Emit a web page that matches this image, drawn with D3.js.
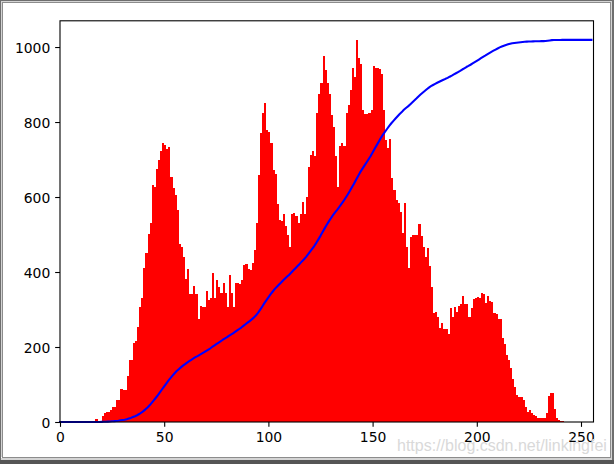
<!DOCTYPE html>
<html>
<head>
<meta charset="utf-8">
<script src="https://cdn.jsdelivr.net/npm/d3@7"></script>
<style>
html, body { margin: 0; padding: 0; background: #ffffff; overflow: hidden; }
svg { display: block; }
</style>
</head>
<body>
<svg id="chart" width="614" height="464"></svg>
<script>
// Histogram counts for the 256 grey levels (0..255)
const binCounts = [
  0,0,0,0,0,0,0,0,0,0, 0,0,0,0,0,0,1,7,3,3,
  16,23,26,26,32,41,41,59,60,89, 85,85,123,165,165,210,216,254,308,330,
  410,450,501,530,632,628,676,700,723,745, 738,727,734,654,623,605,565,476,468,441,
  381,408,341,341,363,341,276,309,308,308, 350,325,330,398,330,380,361,343,370,343,
  308,392,343,308,370,370,368,379,419,421, 409,405,423,459,532,659,770,823,852,780,
  774,743,672,661,581,540,535,556,524,500, 468,555,558,549,532,555,588,556,599,679,
  712,724,709,823,876,903,975,940,903,876, 819,786,709,628,736,743,736,825,845,885,
  945,919,1019,972,956,832,821,821,823,832, 950,943,943,941,928,832,752,730,754,650,
  619,592,583,561,503,583,466,410,494,499, 499,499,528,496,468,439,465,416,361,292,
  294,279,252,263,248,248,234,303,281,306, 294,309,316,336,316,316,281,303,327,330,
  334,330,345,341,318,337,324,321,290,287, 276,276,223,208,179,165,143,116,94,72,
  68,68,59,41,28,32,23,20,16,12, 12,12,12,23,70,78,78,36,12,5,
  3,3,1,0,0,0,0,0,0,0, 0,0,0,0,0,0
];
const xTickValues = [0, 50, 100, 150, 200, 250];
const yTickValues = [0, 200, 400, 600, 800, 1000];
const watermarkText = "https://blog.csdn.net/linkingfei";

const svg = d3.select("#chart");
const plot = { left: 60, right: 593.5, top: 20.8, bottom: 422 };

const maxCount = d3.max(binCounts);
const total = d3.sum(binCounts);
// cumulative distribution of the histogram, normalised to the histogram maximum
const cdfNormalized = Array.from(d3.cumsum(binCounts), v => v * maxCount / total);

const x = d3.scaleLinear().domain([0, 256]).range([plot.left, plot.right]);
const y = d3.scaleLinear().domain([0, maxCount * 1.05]).range([plot.bottom, plot.top]);

// background
svg.append("rect").attr("x", 0).attr("y", 0).attr("width", 614).attr("height", 464).attr("fill", "#ffffff");

// window frame
const frame = svg.append("g").attr("class", "frame");
frame.append("rect").attr("x", 0).attr("y", 0).attr("width", 1).attr("height", 464).attr("fill", "#6e6e6e");
frame.append("rect").attr("x", 1).attr("y", 1).attr("width", 1).attr("height", 456).attr("fill", "#d4d4d4");
frame.append("rect").attr("x", 2).attr("y", 2).attr("width", 1).attr("height", 455).attr("fill", "#8c8c8c");
frame.append("rect").attr("x", 0).attr("y", 0).attr("width", 614).attr("height", 1).attr("fill", "#6e6e6e");
frame.append("rect").attr("x", 1).attr("y", 1).attr("width", 612).attr("height", 1).attr("fill", "#d4d4d4");
frame.append("rect").attr("x", 2).attr("y", 2).attr("width", 609).attr("height", 1).attr("fill", "#8c8c8c");
frame.append("rect").attr("x", 610).attr("y", 2).attr("width", 1).attr("height", 456).attr("fill", "#8c8c8c");
frame.append("rect").attr("x", 611).attr("y", 1).attr("width", 1).attr("height", 458).attr("fill", "#d4d4d4");
frame.append("rect").attr("x", 612).attr("y", 0).attr("width", 2).attr("height", 464).attr("fill", "#6e6e6e");
frame.append("rect").attr("x", 2).attr("y", 457).attr("width", 609).attr("height", 1).attr("fill", "#8c8c8c");
frame.append("rect").attr("x", 1).attr("y", 458).attr("width", 611).attr("height", 2).attr("fill", "#d4d4d4");
frame.append("rect").attr("x", 0).attr("y", 460).attr("width", 614).attr("height", 4).attr("fill", "#555555");

// histogram bars (edges snapped to whole pixels so neighbouring bars join without seams)
svg.append("g").attr("class", "bars")
  .attr("shape-rendering", "crispEdges")
  .selectAll("rect")
  .data(binCounts.map((v, i) => ({ i, v })).filter(d => d.v > 0))
  .join("rect")
  .attr("x", d => Math.round(x(d.i)))
  .attr("y", d => y(d.v))
  .attr("width", d => Math.round(x(d.i + 1)) - Math.round(x(d.i)))
  .attr("height", d => y(0) - y(d.v))
  .attr("fill", "#ff0000");

// cdf line
const line = d3.line().x((d, i) => x(i)).y(d => y(d));
svg.append("path")
  .datum(cdfNormalized)
  .attr("d", line)
  .attr("fill", "none")
  .attr("stroke", "#0000ff")
  .attr("stroke-width", 2.08)
  .attr("stroke-linejoin", "round")
  .attr("stroke-linecap", "square");

// axes
const fontFamily = "'DejaVu Sans', sans-serif";
const tickLen = 4.86;
const xAxis = d3.axisBottom(x).tickValues(xTickValues).tickFormat(d3.format("d"))
  .tickSize(tickLen).tickPadding(tickLen).tickSizeOuter(0);
const yAxis = d3.axisLeft(y).tickValues(yTickValues).tickFormat(d3.format("d"))
  .tickSize(tickLen).tickPadding(tickLen).tickSizeOuter(0);

const gx = svg.append("g").attr("transform", `translate(0,${plot.bottom})`).call(xAxis);
const gy = svg.append("g").attr("transform", `translate(${plot.left},0)`).call(yAxis);
[gx, gy].forEach(g => {
  g.select(".domain").remove();
  g.selectAll(".tick line").attr("stroke", "#000000").attr("stroke-width", 1.1);
  g.selectAll(".tick text").attr("fill", "#000000").style("font-family", fontFamily).style("font-size", "13.9px");
});
gy.selectAll(".tick text").attr("dy", "0.36em");

// spines
svg.append("rect")
  .attr("x", plot.left).attr("y", plot.top)
  .attr("width", plot.right - plot.left).attr("height", plot.bottom - plot.top)
  .attr("fill", "none").attr("stroke", "#000000").attr("stroke-width", 1.1);

// watermark
svg.append("text")
  .attr("x", 397).attr("y", 451)
  .style("font-family", "'Liberation Sans', Arial, sans-serif")
  .style("font-size", "16px")
  .attr("fill", "#d9d9d9")
  .text(watermarkText);
</script>
</body>
</html>
